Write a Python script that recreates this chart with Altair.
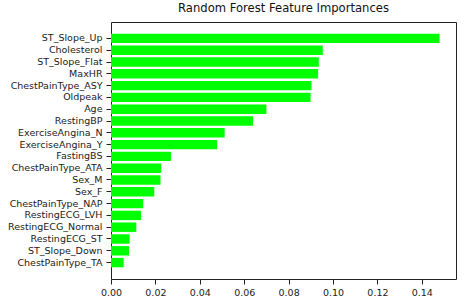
import altair as alt
import pandas as pd

features = ["ST_Slope_Up", "Cholesterol", "ST_Slope_Flat", "MaxHR", "ChestPainType_ASY",
            "Oldpeak", "Age", "RestingBP", "ExerciseAngina_N", "ExerciseAngina_Y",
            "FastingBS", "ChestPainType_ATA", "Sex_M", "Sex_F", "ChestPainType_NAP",
            "RestingECG_LVH", "RestingECG_Normal", "RestingECG_ST", "ST_Slope_Down",
            "ChestPainType_TA"]
importances = [0.148, 0.0954, 0.0936, 0.0933, 0.0903, 0.0899, 0.0700, 0.0640, 0.0512, 0.0478,
               0.0270, 0.0226, 0.0223, 0.0195, 0.0145, 0.0135, 0.0114, 0.0084, 0.0081, 0.0057]
x_ticks = [0.0, 0.02, 0.04, 0.06, 0.08, 0.10, 0.12, 0.14]

df = pd.DataFrame({"feature": features, "importance": importances})

FONT = "DejaVu Sans"

chart = alt.Chart(df).mark_bar(color="#00ff00").encode(
    y=alt.Y("feature:N", sort=features, title=None,
            scale=alt.Scale(paddingInner=0.2, paddingOuter=0.99),
            axis=alt.Axis(labelFont=FONT, labelFontSize=9.5, labelColor="#222222",
                          tickColor="#222222", tickSize=5, labelPadding=4,
                          labelAlign="right", labelBaseline="middle", labelLimit=200,
                          domain=False, grid=False)),
    x=alt.X("importance:Q", title=None,
            scale=alt.Scale(domain=[0, 0.1554], nice=False, zero=True),
            axis=alt.Axis(values=x_ticks, format=".2f", labelFont=FONT, labelFontSize=9.5,
                          labelColor="#222222", tickColor="#222222", tickSize=5,
                          labelPadding=3, domain=False, grid=False, labelFlush=False)),
).properties(
    width=345,
    height=257,
    title=alt.TitleParams("Random Forest Feature Importances", font=FONT, fontSize=11.6,
                          fontWeight="normal", color="#111111", anchor="middle", offset=7),
    autosize=alt.AutoSizeParams(type="none"),
    padding={"left": 111, "top": 22, "right": 8, "bottom": 24},
).configure_view(stroke="#222222", strokeWidth=1)

chart.save("out.html", embed_options={"renderer": "svg", "actions": False})
